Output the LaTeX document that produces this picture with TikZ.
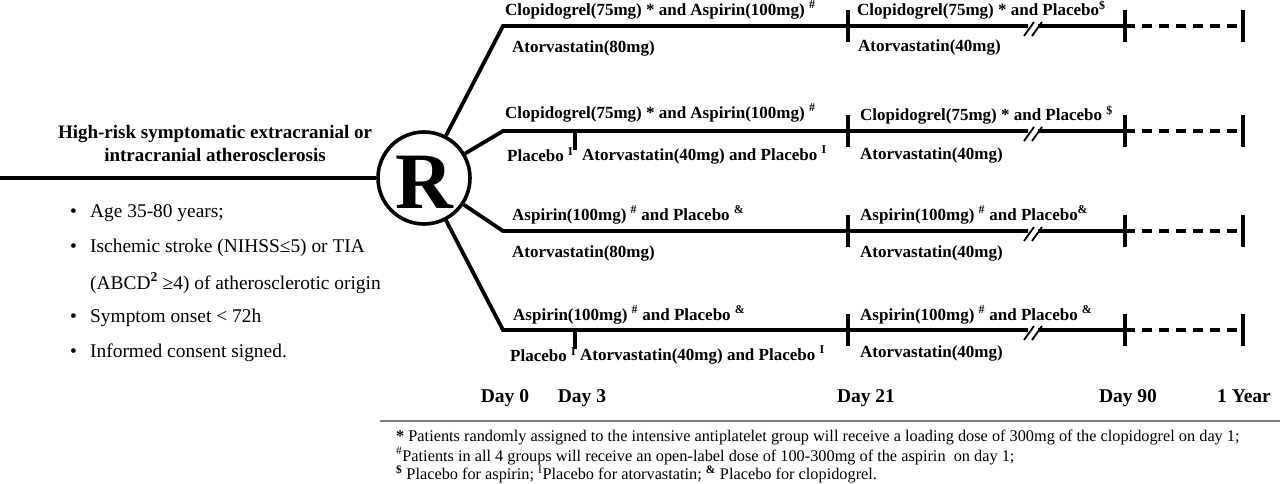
\documentclass[tikz,border=0pt]{standalone}
\usepackage{fontspec}
\setmainfont{Liberation Serif}
\newcommand\sps[1]{\textsuperscript{#1}}
\begin{document}
\begin{tikzpicture}[x=1pt,y=-1pt]
\tikzset{
  arm/.style={line width=3.8pt},
  tickw/.style={line width=4pt},
  slashw/.style={line width=1.8pt},
  dashw/.style={line width=3.8pt, dash pattern=on 10pt off 7pt},
  lbl/.style={anchor=west, inner sep=0pt, font=\fontsize{17}{20}\selectfont\bfseries},
  daylbl/.style={anchor=base, inner sep=0pt, font=\fontsize{19.5}{22}\selectfont\bfseries},
  bul/.style={anchor=west, inner sep=0pt, font=\fontsize{19.4}{23}\selectfont},
  note/.style={anchor=west, inner sep=0pt, font=\fontsize{16.3}{18}\selectfont},
}
\useasboundingbox (0,0) rectangle (1280,484);
\fill[white] (0,0) rectangle (1280,484);

% randomisation circle
\node[circle, draw, line width=3.6pt, minimum size=92pt, inner sep=0pt] (R) at (424,178) {};
\node[anchor=base, inner sep=0pt, font=\fontsize{80}{80}\selectfont\bfseries] (Rlet) at (424,208) {R};
\coordinate (s) at (0,178);
\draw[arm] (s) -- (R);

% arms
\foreach \i/\y in {1/26,2/131,3/231,4/330} {
  \coordinate (c\i) at (503,\y);
  \coordinate (bl\i) at (1028,\y);
  \coordinate (br\i) at (1038,\y);
  \coordinate (d\i) at (1125,\y);
  \coordinate (e\i) at (1243,\y);
  \draw[arm] (R) -- (c\i) -- (bl\i);
  \draw[arm] (br\i) -- (d\i);
  \draw[dashw] (d\i) -- (e\i);
  \draw[tickw] (848,{\y-16}) -- (848,{\y+16});
  \draw[tickw] (1125,{\y-16}) -- (1125,{\y+16});
  \draw[tickw] (1243,{\y-16}) -- (1243,{\y+16});
  \draw[slashw] (1024,{\y+10}) -- (1034,{\y-4});
  \draw[slashw] (1032,{\y+10}) -- (1042,{\y-4});
}
\draw[tickw] (575,131) -- (575,150);
\draw[tickw] (575,330) -- (575,349);

% arm 1
\node[lbl] (a1t) at (505,10) {Clopidogrel(75mg) * and Aspirin(100mg) \sps{\#}};
\node[lbl] (a1b) at (512,48) {Atorvastatin(80mg)};
\node[lbl] (a1r) at (857,10) {Clopidogrel(75mg) * and Placebo\sps{\$}};
\node[lbl] (a1s) at (858,47) {Atorvastatin(40mg)};
% arm 2
\node[lbl] (a2t) at (505,113) {Clopidogrel(75mg) * and Aspirin(100mg) \sps{\#}};
\node[lbl] (a2p) at (507,155) {Placebo \sps{I}};
\node[lbl] (a2b) at (582,155) {Atorvastatin(40mg) and Placebo \sps{I}};
\node[lbl] (a2r) at (860,115) {Clopidogrel(75mg) * and Placebo \sps{\$}};
\node[lbl] (a2s) at (860,155) {Atorvastatin(40mg)};
% arm 3
\node[lbl] (a3t) at (512,215) {Aspirin(100mg) \sps{\#} and Placebo \sps{\&}};
\node[lbl] (a3b) at (512,253) {Atorvastatin(80mg)};
\node[lbl] (a3r) at (860,215) {Aspirin(100mg) \sps{\#} and Placebo\sps{\&}};
\node[lbl] (a3s) at (860,253) {Atorvastatin(40mg)};
% arm 4
\node[lbl] (a4t) at (513,315) {Aspirin(100mg) \sps{\#} and Placebo \sps{\&}};
\node[lbl] (a4p) at (510,355) {Placebo \sps{I}};
\node[lbl] (a4b) at (580,355) {Atorvastatin(40mg) and Placebo \sps{I}};
\node[lbl] (a4r) at (860,315) {Aspirin(100mg) \sps{\#} and Placebo \sps{\&}};
\node[lbl] (a4s) at (860,353) {Atorvastatin(40mg)};

% left side
\node[align=center, inner sep=0pt, font=\fontsize{19}{23}\selectfont\bfseries] (hdr) at (215,143.5)
  {High-risk symptomatic extracranial or\\intracranial atherosclerosis};
\node[bul] (b1) at (70,213) {•};
\node[bul] (b2) at (70,248) {•};
\node[bul] (b4) at (70,318) {•};
\node[bul] (b5) at (70,353) {•};
\node[bul] (l1) at (90,213) {Age 35-80 years;};
\node[bul] (l2) at (90,248) {Ischemic stroke (NIHSS≤5) or TIA};
\node[bul] (l3) at (90,283) {(ABCD\textbf{\sps{2}} ≥4) of atherosclerotic origin};
\node[bul] (l4) at (90,318) {Symptom onset < 72h};
\node[bul] (l5) at (90,353) {Informed consent signed.};

% timeline
\node[daylbl] (d0) at (505,402) {Day 0};
\node[daylbl] (d3) at (582,402) {Day 3};
\node[daylbl] (d21) at (866,402) {Day 21};
\node[daylbl] (d90) at (1128,402) {Day 90};
\node[daylbl] (d1y) at (1244,402) {1 Year};

% footnotes
\draw[gray, line width=1.2pt] (380,421) -- (1280,421);
\node[note] (n1) at (396,438) {\textbf{*} Patients randomly assigned to the intensive antiplatelet group will receive a loading dose of 300mg of the clopidogrel on day 1;};
\node[note] (n2) at (396,456) {\sps{\#}Patients in all 4 groups will receive an open-label dose of 100-300mg of the aspirin\ \ on day 1;};
\node[note] (n3) at (396,474) {\textbf{\sps{\$}} Placebo for aspirin; \sps{I}Placebo for atorvastatin; \textbf{\sps{\&}} Placebo for clopidogrel.};
\end{tikzpicture}
\end{document}
